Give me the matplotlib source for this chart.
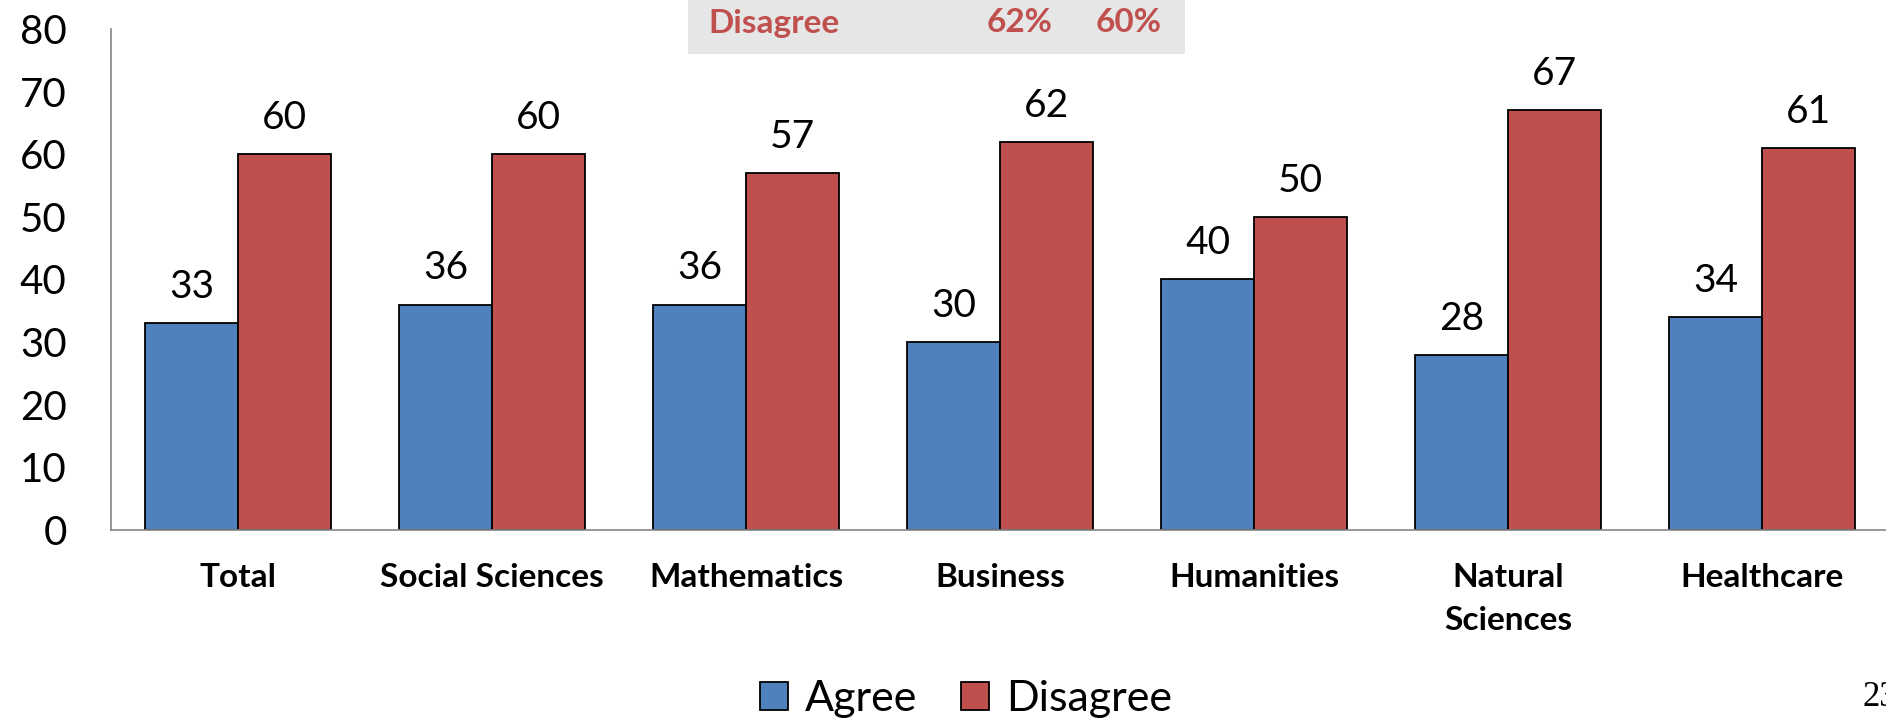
import matplotlib.pyplot as plt
import numpy as np
from matplotlib.patches import Rectangle

plt.rcParams['font.family'] = ['Lato', 'DejaVu Sans']

# data
categories = ["Total", "Social Sciences", "Mathematics", "Business",
              "Humanities", "Natural\nSciences", "Healthcare"]
agree = [33, 36, 36, 30, 40, 28, 34]
disagree = [60, 60, 57, 62, 50, 67, 61]
series_names = ["Agree", "Disagree"]
y_ticks = [0, 10, 20, 30, 40, 50, 60, 70, 80]
banner_label = "Disagree"
banner_values = ["62%", "60%"]

blue = "#4F81BD"
red = "#C0504D"

fig = plt.figure(figsize=(18.86, 7.21), dpi=100)
ax = fig.add_axes([0.0589, 0.2649, 0.9427, 0.695])

x = np.arange(len(categories))
w = 0.366
b1 = ax.bar(x - w / 2, agree, w, color=blue, edgecolor="black", linewidth=1.3, label=series_names[0])
b2 = ax.bar(x + w / 2, disagree, w, color=red, edgecolor="black", linewidth=1.3, label=series_names[1])

for bars in (b1, b2):
    for r in bars:
        h = r.get_height()
        ax.annotate(str(int(h)), (r.get_x() + r.get_width() / 2, h),
                    xytext=(0, 26), textcoords="offset points",
                    ha="center", va="center", fontsize=28)

ax.set_xlim(-0.5, 6.5)
ax.set_ylim(0, 80)
ax.set_yticks(y_ticks)
ax.tick_params(axis="y", length=0, pad=32, labelsize=29)
ax.set_xticks(x)
ax.set_xticklabels(categories, fontweight="bold", fontsize=24, linespacing=1.55)
ax.tick_params(axis="x", length=0, pad=24)
for s in ["top", "right"]:
    ax.spines[s].set_visible(False)
for s in ["left", "bottom"]:
    ax.spines[s].set_color("#868686")
    ax.spines[s].set_linewidth(1.2)

# grey banner at top
fig.add_artist(Rectangle((688 / 1886, 1 - 54 / 721), 497 / 1886, 54 / 721,
                         transform=fig.transFigure, facecolor="#E6E6E6", edgecolor="none"))
fig.text(708 / 1886, 1 - 23 / 721, banner_label, color=red, fontweight="bold",
         fontsize=24, ha="left", va="center")
fig.text(1053 / 1886, 1 - 23 / 721, banner_values[0], color=red, fontweight="bold",
         fontsize=24, ha="right", va="center")
fig.text(1162 / 1886, 1 - 23 / 721, banner_values[1], color=red, fontweight="bold",
         fontsize=24, ha="right", va="center")

fig.legend(handles=[b1, b2], loc="center", bbox_to_anchor=(966 / 1886, 22 / 721),
           ncol=2, frameon=False, fontsize=31, handlelength=0.65, handleheight=0.65,
           handletextpad=0.4, columnspacing=1.0)

# page number
fig.text(1862 / 1886, 23 / 721, "23", family="Liberation Serif", fontsize=25,
         ha="left", va="center")

fig.savefig("out.png", dpi=100)
